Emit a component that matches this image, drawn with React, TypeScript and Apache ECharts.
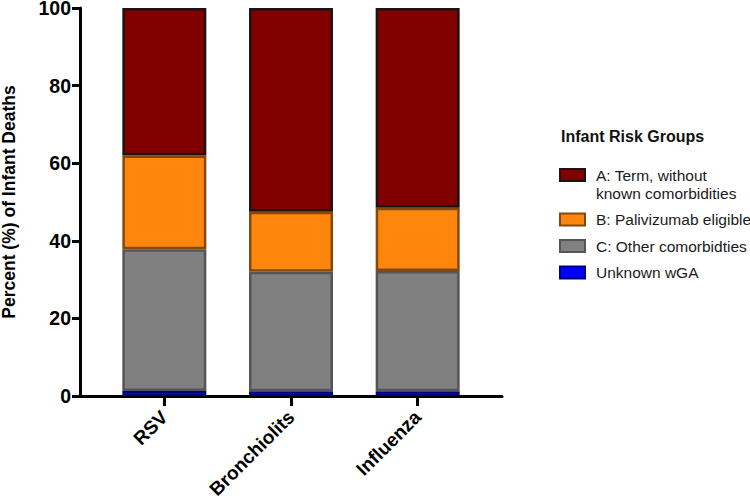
import React, { useEffect, useRef } from "react";
import * as echarts from "echarts";

const categories = ["RSV", "Bronchiolits", "Influenza"];
const unknownWGA = [1.3, 1.2, 1.2];
const otherComorb = [36.5, 30.8, 31.0];
const palivizumab = [24.2, 15.5, 16.3];
const termNoComorb = [38.0, 52.5, 51.5];
const yTicks = [0, 20, 40, 60, 80, 100];

const NAME_A = "A: Term, without known comorbidities";
const NAME_B = "B: Palivizumab eligible";
const NAME_C = "C: Other comorbidties";
const NAME_D = "Unknown wGA";

const FONT = "Liberation Sans, Arial, Helvetica, sans-serif";

export default function App() {
  const ref = useRef<HTMLDivElement>(null);
  useEffect(() => {
    if (!ref.current) return;
    const chart = echarts.init(ref.current, undefined, { renderer: "svg" });
    const barBase = {
      type: "bar" as const,
      stack: "total",
      barWidth: 84,
      xAxisIndex: 0,
      yAxisIndex: 0,
    };
    chart.setOption({
      animation: false,
      backgroundColor: "#ffffff",
      textStyle: { fontFamily: FONT },
      title: {
        text: "Infant Risk Groups",
        left: 561,
        top: 128,
        padding: 0,
        textStyle: { fontSize: 16, fontWeight: "bold", color: "#111", fontFamily: FONT },
      },
      legend: {
        orient: "vertical",
        left: 559,
        top: 148,
        padding: 0,
        itemGap: 8.5,
        itemWidth: 25,
        itemHeight: 12,
        icon: "rect",
        data: [NAME_A, NAME_B, NAME_C, NAME_D],
        formatter: (n: string) =>
          n === NAME_A ? " \nA: Term, without\nknown comorbidities" : n,
        textStyle: {
          fontSize: 15.5,
          lineHeight: 18,
          color: "#1a1a1a",
          fontFamily: FONT,
          padding: [0, 0, 0, 6],
        },
        selectedMode: false,
      },
      grid: [
        { left: 101, right: 269, top: 8, bottom: 104, containLabel: false, outerBoundsMode: "none" },
        { left: 80, right: 248, top: 8, bottom: 104, containLabel: false, outerBoundsMode: "none" },
      ],
      xAxis: [
        {
          type: "category",
          gridIndex: 0,
          data: categories,
          axisLine: { show: false },
          axisTick: {
            show: true,
            alignWithLabel: true,
            length: 10,
            lineStyle: { color: "#000", width: 3 },
          },
          axisLabel: {
            rotate: 45,
            margin: 18,
            fontSize: 19,
            fontWeight: "bold",
            color: "#000",
            fontFamily: FONT,
          },
        },
        {
          type: "value",
          gridIndex: 1,
          min: 0,
          max: 1,
          axisLine: { show: true, onZero: false, lineStyle: { color: "#000", width: 3 } },
          axisTick: { show: false },
          axisLabel: { show: false },
          splitLine: { show: false },
        },
      ],
      yAxis: [
        {
          type: "value",
          gridIndex: 0,
          min: 0,
          max: 100,
          interval: 20,
          offset: 21,
          name: "Percent (%) of Infant Deaths",
          nameLocation: "middle",
          nameGap: 62,
          nameTextStyle: { fontSize: 17.5, fontWeight: "bold", color: "#000", fontFamily: FONT },
          axisLine: { show: true, lineStyle: { color: "#000", width: 3 } },
          axisTick: { show: true, length: 8, lineStyle: { color: "#000", width: 3 } },
          axisLabel: {
            fontSize: 19.5,
            lineHeight: 15,
            padding: [2, 0, 0, 0],
            fontWeight: "bold",
            color: "#000",
            margin: 9,
            fontFamily: FONT,
            formatter: (v: number) => (yTicks.includes(v) ? String(v) : ""),
          },
          splitLine: { show: false },
        },
        { type: "value", gridIndex: 1, show: false, min: 0, max: 1 },
      ],
      series: [
        {
          ...barBase,
          name: NAME_D,
          data: unknownWGA,
          itemStyle: { color: "#0000ff", borderColor: "#000080", borderWidth: 2 },
        },
        {
          ...barBase,
          name: NAME_C,
          data: otherComorb,
          itemStyle: { color: "#808080", borderColor: "#555555", borderWidth: 2.5 },
        },
        {
          ...barBase,
          name: NAME_B,
          data: palivizumab,
          itemStyle: { color: "#ff860d", borderColor: "#84480f", borderWidth: 2.5 },
        },
        {
          ...barBase,
          name: NAME_A,
          data: termNoComorb,
          itemStyle: { color: "#800000", borderColor: "#1c1414", borderWidth: 2.5 },
        },
      ],
    });
    return () => chart.dispose();
  }, []);
  return (
    <div
      ref={ref}
      style={{ position: "fixed", left: 0, top: 0, width: 750, height: 500, background: "#fff" }}
    />
  );
}
